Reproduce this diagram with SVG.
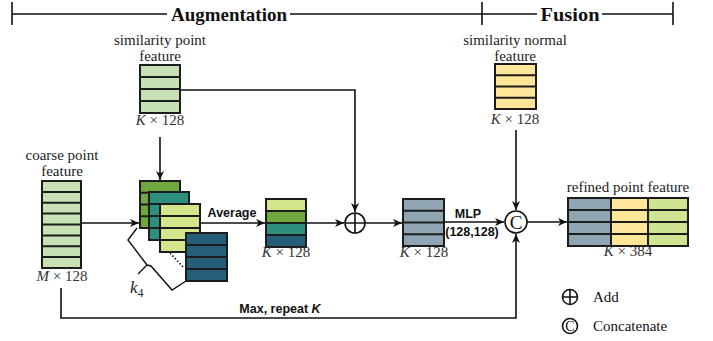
<svg xmlns="http://www.w3.org/2000/svg" width="713" height="341" viewBox="0 0 713 341">
<defs>
<style>
.lbl{font-family:"Liberation Serif","Times New Roman",serif;font-size:15px;fill:#222;text-anchor:middle}
.dim{font-family:"Liberation Serif","Times New Roman",serif;font-size:15px;fill:#333;text-anchor:middle}
.hdr{font-family:"Liberation Serif","Times New Roman",serif;font-size:19px;font-weight:bold;fill:#111;text-anchor:middle}
.op{font-family:"Liberation Sans",Arial,sans-serif;font-size:12.5px;font-weight:bold;fill:#111;text-anchor:middle}
.leg{font-family:"Liberation Serif","Times New Roman",serif;font-size:15px;fill:#111}
.blk{stroke:#1c1c1c;stroke-width:2}
.ln{fill:none;stroke:#111;stroke-width:1.6}
.thin{fill:none;stroke:#111;stroke-width:1.4}
.c1{fill:#c7e0b4}
.c2{fill:#70a83f}
.c3{fill:#2e8f7e}
.c4{fill:#d4e68c}
.c5{fill:#245f78}
.c6{fill:#8fa5b3}
.c7{fill:#ffe699}
.c8{fill:#cfe490}
</style>
<marker id="ah" markerUnits="userSpaceOnUse" markerWidth="10" markerHeight="8" refX="9" refY="4" orient="auto">
<path d="M0,0 L9,4 L0,8 L2.5,4 z" fill="#111"/>
</marker>
</defs>
<rect width="713" height="341" fill="#fff"/>

<g id="header">
<path class="ln" d="M12,14 H167 M290,14 H537 M602,14 H673 M12,2 V25 M482,2 V25 M673,2 V25"/>
<text class="hdr" x="229" y="21" textLength="116" lengthAdjust="spacingAndGlyphs">Augmentation</text>
<text class="hdr" x="570" y="21" textLength="59" lengthAdjust="spacingAndGlyphs">Fusion</text>
</g>

<g id="coarse">
<text class="lbl" x="62" y="160">coarse point</text>
<text class="lbl" x="62" y="176">feature</text>
<rect class="c1 blk" x="42" y="181" width="39" height="87"/>
<path class="blk" d="M42,191.9 H81 M42,202.75 H81 M42,213.6 H81 M42,224.5 H81 M42,235.4 H81 M42,246.25 H81 M42,257.1 H81"/>
<text class="dim" x="62" y="281"><tspan font-style="italic">M</tspan> × 128</text>
</g>

<g id="simpoint">
<text class="lbl" x="160" y="45">similarity point</text>
<text class="lbl" x="160" y="61">feature</text>
<rect class="c1 blk" x="140" y="65" width="40" height="48"/>
<path class="blk" d="M140,77 H180 M140,89 H180 M140,101 H180"/>
<text class="dim" x="160" y="125"><tspan font-style="italic">K</tspan> × 128</text>
</g>

<g id="stack">
<rect class="c2 blk" x="140" y="181" width="40" height="47"/>
<path class="blk" d="M140,192.75 H180 M140,204.5 H180 M140,216.25 H180"/>
<rect class="c3 blk" x="149" y="192" width="40" height="48"/>
<path class="blk" d="M149,204 H189 M149,216 H189 M149,228 H189"/>
<rect class="c4 blk" x="160" y="204" width="40" height="48"/>
<path class="blk" d="M160,216 H200 M160,228 H200 M160,240 H200"/>
<rect class="c5 blk" x="186" y="233" width="41" height="48"/>
<path class="blk" d="M186,245 H227 M186,257 H227 M186,269 H227"/>
<path d="M170,253 L184,268" fill="none" stroke="#111" stroke-width="1.6" stroke-dasharray="1.5,2"/>
<path class="thin" d="M137,228 L128,240 L147,265 L138,274 M147,265 L151,266 L172,290 L186,281"/>
<text x="130" y="293" font-family="Liberation Serif, serif" font-size="17" font-style="italic" fill="#222">k<tspan font-size="12" font-style="normal" dy="4">4</tspan></text>
</g>

<g id="average">
<rect class="c4 blk" x="266" y="199" width="40" height="12"/>
<rect class="c2 blk" x="266" y="211" width="40" height="12"/>
<rect class="c3 blk" x="266" y="223" width="40" height="12"/>
<rect class="c5 blk" x="266" y="235" width="40" height="12"/>
<text class="dim" x="286" y="257"><tspan font-style="italic">K</tspan> × 128</text>
</g>

<g id="add">
<circle cx="355" cy="223" r="10" fill="#fff" stroke="#111" stroke-width="1.6"/>
<path class="ln" d="M345,223 H365 M355,213 V233"/>
</g>

<g id="mlpout">
<rect class="c6 blk" x="403" y="199" width="41" height="47"/>
<path class="blk" d="M403,210.75 H444 M403,222.5 H444 M403,234.25 H444"/>
<text class="dim" x="424" y="257"><tspan font-style="italic">K</tspan> × 128</text>
</g>

<g id="simnormal">
<text class="lbl" x="515" y="45">similarity normal</text>
<text class="lbl" x="515" y="61">feature</text>
<rect class="c7 blk" x="495" y="64" width="41" height="45"/>
<path class="blk" d="M495,75.25 H536 M495,86.5 H536 M495,97.75 H536"/>
<text class="dim" x="515" y="124"><tspan font-style="italic">K</tspan> × 128</text>
</g>

<g id="concat">
<circle cx="516" cy="222" r="11" fill="#fff" stroke="#111" stroke-width="1.6"/>
<text x="516" y="229" font-family="Liberation Serif, serif" font-size="19" text-anchor="middle" fill="#111">C</text>
</g>

<g id="refined">
<text class="lbl" x="628" y="192">refined point feature</text>
<rect class="c6" x="568" y="198" width="43" height="48"/>
<rect class="c7" x="611" y="198" width="37" height="48"/>
<rect class="c8" x="648" y="198" width="40" height="48"/>
<rect x="568" y="198" width="120" height="48" fill="none" class="blk"/>
<path class="blk" d="M568,210 H688 M568,222 H688 M568,234 H688 M611,198 V246 M648,198 V246"/>
<text class="dim" x="628" y="256"><tspan font-style="italic">K</tspan> × 384</text>
</g>

<g id="legend">
<circle cx="570" cy="297" r="7.5" fill="#fff" stroke="#111" stroke-width="1.6"/>
<path class="ln" d="M562.5,297 H577.5 M570,289.5 V304.5"/>
<text class="leg" x="593" y="302">Add</text>
<circle cx="570" cy="326" r="7.5" fill="#fff" stroke="#111" stroke-width="1.6"/>
<text x="570" y="331" font-family="Liberation Serif, serif" font-size="14" text-anchor="middle" fill="#111">C</text>
<text class="leg" x="593" y="331">Concatenate</text>
</g>

<g id="connectors">
<path class="ln" d="M81,223 H139" marker-end="url(#ah)"/>
<path class="ln" d="M160,137 V180" marker-end="url(#ah)"/>
<path class="ln" d="M180,90 H355 V212" marker-end="url(#ah)"/>
<path class="ln" d="M200,223 H265" marker-end="url(#ah)"/>
<path class="ln" d="M306,223 H344" marker-end="url(#ah)"/>
<path class="ln" d="M365,223 H402" marker-end="url(#ah)"/>
<path class="ln" d="M444,222 H504" marker-end="url(#ah)"/>
<path class="ln" d="M516,130 V210" marker-end="url(#ah)"/>
<path class="ln" d="M61,288 V318 H516 V234" marker-end="url(#ah)"/>
<path class="ln" d="M527,222 H567" marker-end="url(#ah)"/>
<text class="op" x="232" y="217">Average</text>
<text class="op" x="468" y="218">MLP</text>
<text class="op" x="472" y="236" font-size="12px">(128,128)</text>
<text class="op" x="280" y="313">Max, repeat <tspan font-style="italic">K</tspan></text>
</g>
</svg>
